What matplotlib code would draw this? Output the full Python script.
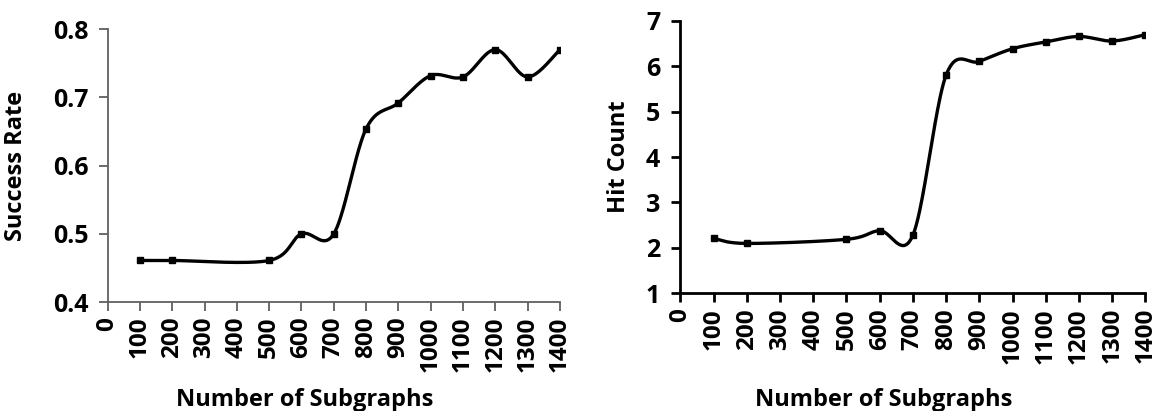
import numpy as np
import matplotlib
matplotlib.use('Agg')
import matplotlib.pyplot as plt

# data
subgraphs = [100, 200, 500, 600, 700, 800, 900, 1000, 1100, 1200, 1300, 1400]
success_rate = [0.461, 0.461, 0.461, 0.500, 0.500, 0.654, 0.692, 0.732, 0.730, 0.770, 0.730, 0.770]
hit_count = [2.21, 2.10, 2.19, 2.38, 2.28, 5.80, 6.10, 6.38, 6.53, 6.65, 6.55, 6.69]
x_ticks = list(range(0, 1401, 100))

plt.rcParams['font.family'] = ['Open Sans', 'DejaVu Sans']
plt.rcParams['font.weight'] = 'bold'


def smooth_line(xs, ys, n=40):
    """Excel-style smoothed line: cubic Bezier through each pair of points."""
    p = np.column_stack([xs, ys]).astype(float)
    out = [p[0]]
    t = np.linspace(0, 1, n)[1:, None]
    for i in range(len(p) - 1):
        p0 = p[i - 1] if i > 0 else p[i]
        p3 = p[i + 2] if i + 2 < len(p) else p[i + 1]
        c1 = p[i] + (p[i + 1] - p0) / 6.0
        c2 = p[i + 1] - (p3 - p[i]) / 6.0
        seg = ((1 - t) ** 3) * p[i] + 3 * ((1 - t) ** 2) * t * c1 \
            + 3 * (1 - t) * t ** 2 * c2 + t ** 3 * p[i + 1]
        out.extend(seg)
    out = np.array(out)
    return out[:, 0], out[:, 1]


def style_axis(ax, spine_color, spine_w):
    for side in ['top', 'right']:
        ax.spines[side].set_visible(False)
    for side in ['left', 'bottom']:
        ax.spines[side].set_color(spine_color)
        ax.spines[side].set_linewidth(spine_w)
    ax.set_xlim(0, 1400)
    ax.set_xticks(x_ticks)
    ax.set_xticklabels([str(v) for v in x_ticks], rotation=90,
                       fontsize=17.5, fontweight='bold')
    ax.tick_params(axis='both', direction='out', length=6.5, width=spine_w,
                   color=spine_color)
    ax.tick_params(axis='x', pad=4)
    ax.tick_params(axis='y', pad=7)
    ax.set_xlabel("Number of Subgraphs", fontsize=17, fontweight='bold')


fig = plt.figure(figsize=(11.57, 4.11), dpi=100)
ax1 = fig.add_axes([0.093, 0.265, 0.391, 0.664])
ax2 = fig.add_axes([0.588, 0.286, 0.402, 0.664])

# left panel - success rate
sx, sy = smooth_line(subgraphs, success_rate)
ax1.plot(sx, sy, color='black', linewidth=2.4)
ax1.plot(subgraphs, success_rate, linestyle='none', marker='s', markersize=5,
         color='black')
style_axis(ax1, '#606060', 1.3)
ax1.set_ylim(0.4, 0.8)
ax1.set_yticks([0.4, 0.5, 0.6, 0.7, 0.8])
ax1.set_yticklabels(['0.4', '0.5', '0.6', '0.7', '0.8'], fontsize=18, fontweight='bold')
ax1.set_ylabel("Success Rate", fontsize=17, fontweight='bold')
ax1.yaxis.set_label_coords(-0.175, 0.5)
ax1.xaxis.set_label_coords(0.435, -0.315)

# right panel - hit count
hx, hy = smooth_line(subgraphs, hit_count)
ax2.plot(hx, hy, color='black', linewidth=2.4)
ax2.plot(subgraphs, hit_count, linestyle='none', marker='s', markersize=5,
         color='black')
style_axis(ax2, 'black', 2.0)
ax2.set_ylim(1, 7)
ax2.set_yticks(range(1, 8))
ax2.set_yticklabels([str(v) for v in range(1, 8)], fontsize=18, fontweight='bold')
ax2.tick_params(axis='y', pad=8)
ax2.set_ylabel("Hit Count", fontsize=17, fontweight='bold')
ax2.yaxis.set_label_coords(-0.105, 0.5)
ax2.xaxis.set_label_coords(0.438, -0.348)

fig.savefig('out.png', dpi=100)
